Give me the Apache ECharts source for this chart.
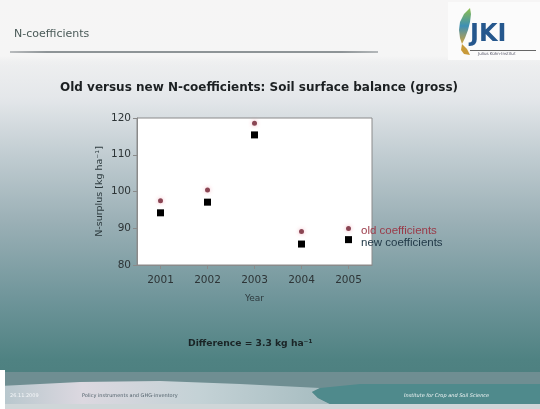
<!DOCTYPE html>
<html>
<head>
<meta charset="utf-8">
<script src="https://cdn.jsdelivr.net/npm/echarts@6/dist/echarts.min.js"></script>
<style>
  html, body { margin: 0; padding: 0; background: #ffffff; }
  #chart { width: 540px; height: 409px; }
</style>
</head>
<body>
<div id="chart"></div>
<script>
// Soil surface N balance, old vs new coefficients
const years = ['2001', '2002', '2003', '2004', '2005'];
const oldCoefficients = [97.5, 100.4, 118.6, 89.1, 89.9];
const newCoefficients = [94.2, 97.1, 115.4, 85.7, 86.9];
const yTicks = { min: 80, max: 120, step: 10 };

const chart = echarts.init(document.getElementById('chart'), null, { renderer: 'canvas' });

function txt(x, y, text, font, fill) {
  return { type: 'text', silent: true, x: x, y: y, style: { text: text, font: font, fill: fill, textVerticalAlign: 'middle' } };
}

const graphics = [
  // slide background
  { type: 'rect', silent: true, z: -10, shape: { x: 0, y: 0, width: 540, height: 409 },
    style: { fill: new echarts.graphic.LinearGradient(0, 0, 0, 1, [
      { offset: 0.00, color: '#f6f6f6' },
      { offset: 0.15, color: '#eeeff0' },
      { offset: 0.24, color: '#e4e7ea' },
      { offset: 0.37, color: '#c3ced3' },
      { offset: 0.54, color: '#9bb0b6' },
      { offset: 0.73, color: '#6f959a' },
      { offset: 0.88, color: '#4f8282' },
      { offset: 1.00, color: '#4a7c7c' }
    ]) } },
  // header band, fading into the slide body
  { type: 'rect', silent: true, z: -9, shape: { x: 0, y: 0, width: 540, height: 66 },
    style: { fill: new echarts.graphic.LinearGradient(0, 0, 0, 1, [
      { offset: 0, color: 'rgba(246,245,245,1)' }, { offset: 0.85, color: 'rgba(245,245,245,1)' }, { offset: 1, color: 'rgba(238,239,240,0)' }]) } },
  txt(14, 34, 'N-coefficients', '11px "DejaVu Sans"', '#4a5a58'),
  { type: 'rect', silent: true, shape: { x: 10, y: 51, width: 368, height: 2 },
    style: { fill: new echarts.graphic.LinearGradient(0, 0, 1, 0, [
      { offset: 0, color: '#b9bcbe' }, { offset: 0.1, color: '#8e9497' }, { offset: 0.9, color: '#8e9497' }, { offset: 1, color: '#b4b8ba' }]) } },
  // logo
  { type: 'rect', silent: true, shape: { x: 448, y: 2, width: 92, height: 58 }, style: { fill: '#fbfbfb' } },
  { type: 'polygon', silent: true,
    shape: { points: [[470, 8], [464, 14], [460, 22], [459, 30], [460, 38], [462, 44], [465, 38], [468, 30], [470, 22], [471, 14]] },
    style: { fill: new echarts.graphic.LinearGradient(0, 0, 0, 1, [
      { offset: 0, color: '#8fbf4a' }, { offset: 0.5, color: '#3d8fb5' }, { offset: 1, color: '#d2a33a' }]) } },
  { type: 'polygon', silent: true,
    shape: { points: [[462, 44], [461, 50], [464, 54], [470, 55], [467, 49]] },
    style: { fill: '#c89a3a' } },
  txt(470, 35, 'JKI', 'bold 24px "DejaVu Sans"', '#25578d'),
  { type: 'rect', silent: true, shape: { x: 470, y: 50, width: 66, height: 1 }, style: { fill: '#666' } },
  txt(478, 54, 'Julius Kühn-Institut', '4px "DejaVu Sans"', '#556'),
  // slide title
  txt(60, 88, 'Old versus new N-coefficients: Soil surface balance (gross)', 'bold 12px "DejaVu Sans"', '#1c2022'),
  // note below chart
  txt(188, 344, 'Difference = 3.3 kg ha⁻¹', 'bold 9.2px "DejaVu Sans"', '#1a2426'),
  // footer
  { type: 'rect', silent: true, shape: { x: 0, y: 372, width: 540, height: 37 }, style: { fill: '#6f8e92' } },
  { type: 'polygon', silent: true,
    shape: { points: [[0, 386], [80, 382], [160, 381], [240, 384], [300, 387], [320, 388], [312, 392], [318, 398], [330, 404], [0, 404]] },
    style: { fill: new echarts.graphic.LinearGradient(0, 0, 1, 0, [
      { offset: 0, color: '#b6c6cc' }, { offset: 0.25, color: '#dcd8e0' }, { offset: 0.6, color: '#c4d2d6' }, { offset: 1, color: '#a6bcc0' }]) } },
  { type: 'polygon', silent: true,
    shape: { points: [[320, 388], [360, 384], [450, 384], [540, 384], [540, 404], [330, 404], [318, 398], [312, 392]] },
    style: { fill: '#4f8a8c' } },
  { type: 'rect', silent: true, shape: { x: 0, y: 404, width: 540, height: 5 }, style: { fill: '#cfd6d8' } },
  { type: 'rect', silent: true, shape: { x: 0, y: 370, width: 5, height: 39 }, style: { fill: '#ffffff' } },
  txt(10, 396, '26.11.2009', '5px "DejaVu Sans"', '#f4f6f8'),
  txt(82, 396, 'Policy instruments and GHG-inventory', '5px "DejaVu Sans"', '#50606a'),
  txt(404, 396, 'Institute for Crop and Soil Science', 'italic 5px "DejaVu Sans"', '#f2f6f6')
];

const option = {
  animation: false,
  backgroundColor: 'transparent',
  graphic: graphics,
  grid: {
    left: 137, top: 118, width: 235, height: 147,
    show: true, backgroundColor: '#ffffff', borderColor: '#8a8a8a', borderWidth: 1
  },
  legend: {
    orient: 'vertical', left: 340, top: 220,
    itemWidth: 8, itemHeight: 8, itemGap: 0,
    itemStyle: { opacity: 0 },
    textStyle: { fontFamily: 'Liberation Sans', fontSize: 11.5, padding: [0, 0, 0, 3] },
    data: [
      { name: 'old coefficients', textStyle: { color: '#9a3a48' } },
      { name: 'new coefficients', textStyle: { color: '#223a48' } }
    ]
  },
  xAxis: {
    type: 'category', data: years, boundaryGap: true,
    name: 'Year', nameLocation: 'middle', nameGap: 29,
    nameTextStyle: { fontFamily: 'DejaVu Sans', fontSize: 9, color: '#2d3a3e' },
    axisLine: { show: true, lineStyle: { color: '#8a8a8a' } },
    axisTick: { show: true, alignWithLabel: true, length: 4, lineStyle: { color: '#8a8a8a' } },
    axisLabel: { margin: 10, fontFamily: 'DejaVu Sans', fontSize: 10.5, color: '#2d3436' },
    splitLine: { show: false }
  },
  yAxis: {
    type: 'value', min: yTicks.min, max: yTicks.max, interval: yTicks.step,
    name: 'N-surplus [kg ha⁻¹]', nameLocation: 'middle', nameGap: 32, nameRotate: 90,
    nameTextStyle: { fontFamily: 'DejaVu Sans', fontSize: 9.5, color: '#2d3a3e' },
    axisLine: { show: true, lineStyle: { color: '#8a8a8a' } },
    axisTick: { show: true, length: 4, lineStyle: { color: '#8a8a8a' } },
    axisLabel: { margin: 6, fontFamily: 'DejaVu Sans', fontSize: 10.5, color: '#2d3436' },
    splitLine: { show: false }
  },
  series: [
    {
      name: 'old coefficients', type: 'scatter', data: oldCoefficients,
      symbol: 'circle', symbolSize: 5,
      itemStyle: { color: '#6e1e2e', shadowBlur: 4, shadowColor: 'rgba(230,120,140,0.7)' }
    },
    {
      name: 'new coefficients', type: 'scatter', data: newCoefficients,
      symbol: 'rect', symbolSize: 7,
      itemStyle: { color: '#000000', opacity: 1 }
    }
  ]
};

chart.setOption(option);
</script>
</body>
</html>
